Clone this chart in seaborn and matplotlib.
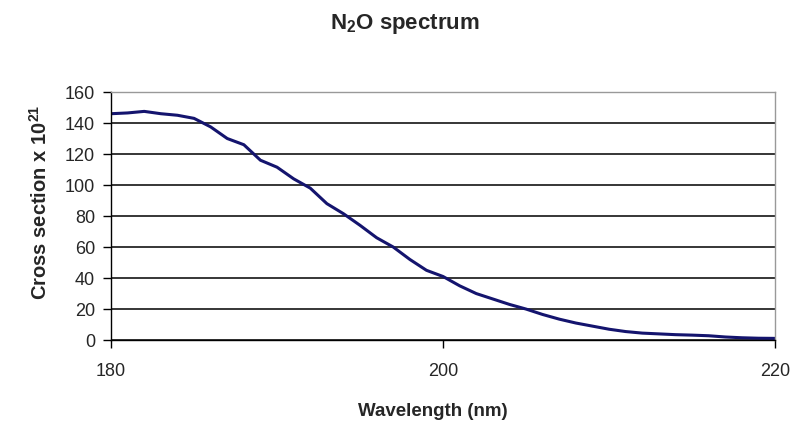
import matplotlib
matplotlib.use("Agg")
import pandas as pd
import matplotlib.pyplot as plt
import seaborn as sns

# N2O absorption cross section
wavelength = list(range(180, 221))
cross_section = [146, 146.5, 147.5, 146, 145, 143, 137.5, 130, 126, 116,
                 111.5, 104, 98, 88, 81.5, 74, 66, 60, 52, 45,
                 41, 35, 30, 26.5, 23, 20, 16.5, 13.5, 11, 9,
                 7, 5.5, 4.5, 4, 3.5, 3.2, 2.8, 2, 1.5, 1.2, 1.1]
x_ticks = [180, 200, 220]
y_ticks = [0, 20, 40, 60, 80, 100, 120, 140, 160]

df = pd.DataFrame({"wavelength": wavelength, "xs": cross_section})

sns.set_style("white")
plt.rcParams["font.family"] = ["Liberation Sans", "DejaVu Sans"]
plt.rcParams["mathtext.fontset"] = "custom"
plt.rcParams["mathtext.rm"] = "Liberation Sans"
plt.rcParams["mathtext.bf"] = "Liberation Sans:bold"

fig = plt.figure(figsize=(7.93, 4.23), dpi=100)
ax = fig.add_axes([0.1400, 0.196, 0.8375, 0.5865])

sns.lineplot(data=df, x="wavelength", y="xs", ax=ax, color="#14146e", linewidth=2.2)

ax.set_xlim(180, 220)
ax.set_ylim(0, 160)
ax.set_xticks(x_ticks)
ax.set_yticks(y_ticks)
ax.yaxis.grid(True, color="black", linewidth=1.1)
ax.set_axisbelow(True)
ax.tick_params(axis="both", labelsize=13, length=5.5, width=1, color="black",
               direction="out", left=True, bottom=True)
ax.tick_params(axis="x", pad=11)
ax.tick_params(axis="y", pad=6)

for s in ["left", "bottom"]:
    ax.spines[s].set_color("black")
    ax.spines[s].set_linewidth(1)
for s in ["top", "right"]:
    ax.spines[s].set_color("#999999")
    ax.spines[s].set_linewidth(1)

ax.set_xlabel("Wavelength (nm)", fontsize=13.5, fontweight="bold")
ax.xaxis.set_label_coords(0.484, -0.255)
ax.set_ylabel(r"Cross section x 10$^{\mathbf{21}}$", fontsize=14.5, fontweight="bold")
ax.yaxis.set_label_coords(-0.091, 0.555)
fig.text(0.511, 1 - 29 / 423, r"N$_{\mathbf{2}}$O spectrum", fontsize=16,
         fontweight="bold", ha="center", va="baseline")

fig.savefig("out.png", dpi=100)
